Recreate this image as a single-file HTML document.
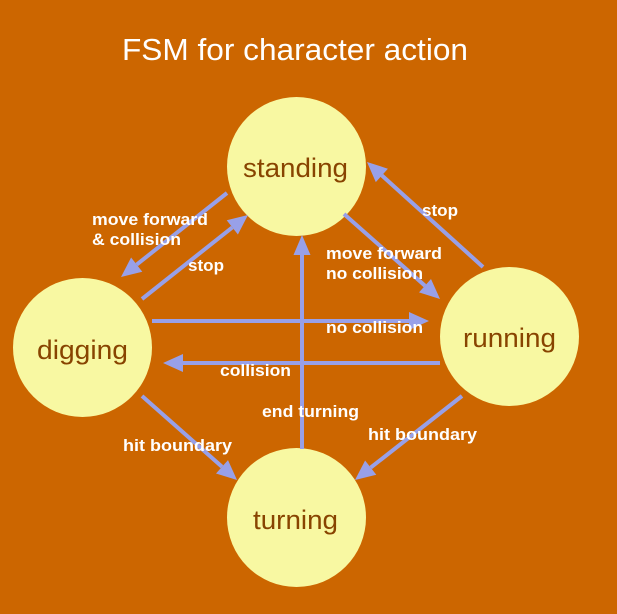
<!DOCTYPE html>
<html>
<head>
<meta charset="utf-8">
<style>
html,body{margin:0;padding:0;background:#CC6600;}
svg{display:block;}
.lbl{font-family:"Liberation Sans",Arial,sans-serif;font-weight:bold;font-size:17px;fill:#ffffff;}
.node{font-family:"Liberation Sans",Arial,sans-serif;font-size:27px;fill:#884400;}
</style>
</head>
<body>
<svg width="617" height="614" viewBox="0 0 617 614" xmlns="http://www.w3.org/2000/svg">
<rect x="0" y="0" width="617" height="614" fill="#CC6600"/>
<text x="122" y="60" font-family="Liberation Sans, Arial, sans-serif" font-size="31" fill="#ffffff" textLength="346" lengthAdjust="spacingAndGlyphs">FSM for character action</text>

<!-- circles -->
<circle cx="296.5" cy="166.5" r="69.5" fill="#F8F8A2"/>
<circle cx="82.5" cy="347.5" r="69.5" fill="#F8F8A2"/>
<circle cx="509.5" cy="336.5" r="69.5" fill="#F8F8A2"/>
<circle cx="296.5" cy="517.5" r="69.5" fill="#F8F8A2"/>

<text class="node" x="295.5" y="177" text-anchor="middle" textLength="105" lengthAdjust="spacingAndGlyphs">standing</text>
<text class="node" x="82.5" y="359" text-anchor="middle" textLength="91" lengthAdjust="spacingAndGlyphs">digging</text>
<text class="node" x="509.5" y="347" text-anchor="middle" textLength="93" lengthAdjust="spacingAndGlyphs">running</text>
<text class="node" x="295.5" y="529" text-anchor="middle" textLength="85" lengthAdjust="spacingAndGlyphs">turning</text>

<!-- connectors -->
<g stroke="#98A0E8" stroke-width="4" fill="none">
  <line x1="227" y1="193" x2="136.7" y2="264.6"/>
  <line x1="142" y1="299" x2="232.3" y2="227.4"/>
  <line x1="344" y1="214" x2="425" y2="285.7"/>
  <line x1="483" y1="267" x2="381.8" y2="175.4"/>
  <line x1="152" y1="321" x2="410" y2="321"/>
  <line x1="440" y1="363" x2="182" y2="363"/>
  <line x1="302" y1="449" x2="302" y2="254"/>
  <line x1="142" y1="396" x2="222" y2="466.8"/>
  <line x1="462" y1="396" x2="370.7" y2="467.6"/>
</g>
<g fill="#98A0E8">
  <polygon points="121,277 142.3,271.7 131.1,257.5"/>
  <polygon points="248,215 237.9,234.5 226.7,220.3"/>
  <polygon points="440,299 419,292.4 431,279"/>
  <polygon points="367,162 387.9,168.7 375.8,182.1"/>
  <polygon points="429,321 409,312 409,330"/>
  <polygon points="163,363 183,354 183,372"/>
  <polygon points="302,235 293.5,255 310.5,255"/>
  <polygon points="237,480 216,473.5 228,460.1"/>
  <polygon points="355,480 376.3,474.7 365.1,460.5"/>
</g>

<!-- labels -->
<text class="lbl" x="92" y="225" textLength="116" lengthAdjust="spacingAndGlyphs">move forward</text>
<text class="lbl" x="92" y="245" textLength="89" lengthAdjust="spacingAndGlyphs">&amp; collision</text>
<text class="lbl" x="188" y="271" textLength="36" lengthAdjust="spacingAndGlyphs">stop</text>
<text class="lbl" x="422" y="216" textLength="36" lengthAdjust="spacingAndGlyphs">stop</text>
<text class="lbl" x="326" y="259" textLength="116" lengthAdjust="spacingAndGlyphs">move forward</text>
<text class="lbl" x="326" y="279" textLength="97" lengthAdjust="spacingAndGlyphs">no collision</text>
<text class="lbl" x="326" y="333" textLength="97" lengthAdjust="spacingAndGlyphs">no collision</text>
<text class="lbl" x="220" y="376" textLength="71" lengthAdjust="spacingAndGlyphs">collision</text>
<text class="lbl" x="262" y="417" textLength="97" lengthAdjust="spacingAndGlyphs">end turning</text>
<text class="lbl" x="123" y="451" textLength="109" lengthAdjust="spacingAndGlyphs">hit boundary</text>
<text class="lbl" x="368" y="440" textLength="109" lengthAdjust="spacingAndGlyphs">hit boundary</text>
</svg>
</body>
</html>
